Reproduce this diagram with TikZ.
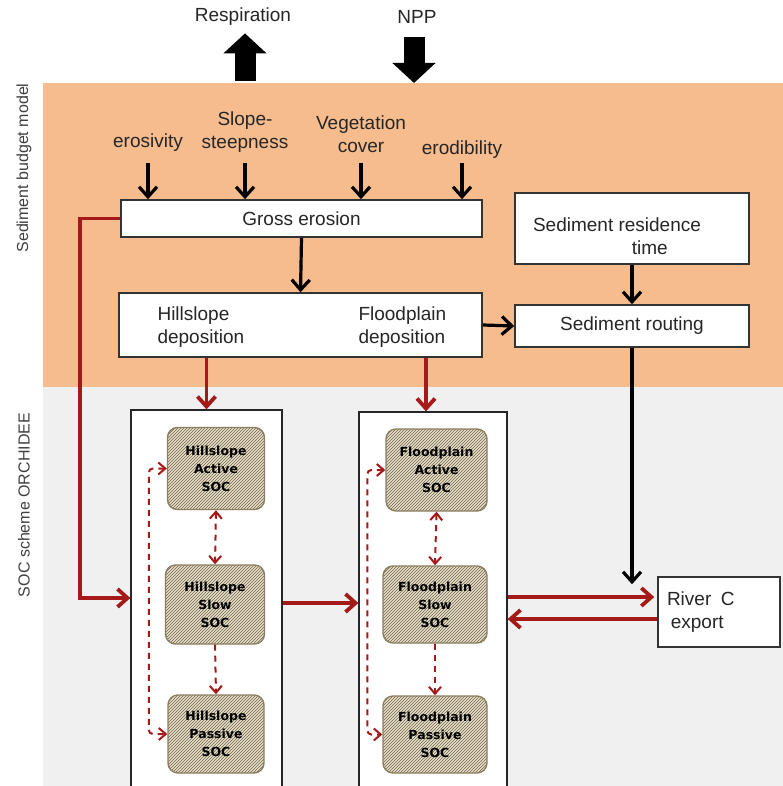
\documentclass[tikz,border=0pt]{standalone}
\usepackage{fontspec}
\setmainfont{Liberation Sans}
\newfontfamily\socfont{DejaVu Sans}
\usetikzlibrary{arrows.meta,patterns,calc}
\definecolor{budget}{RGB}{246,188,142}
\definecolor{schemegray}{RGB}{240,240,240}
\definecolor{fluxred}{RGB}{165,25,25}
\definecolor{socfill}{RGB}{232,224,200}
\definecolor{soclines}{RGB}{110,100,78}
\definecolor{socedge}{RGB}{140,125,95}

\begin{document}
\begin{tikzpicture}[x=1pt,y=-1pt,
        every node/.style={font=\fontsize{19}{23}\selectfont, text=black!85},
        procbox/.style={draw=black!80, line width=1.6pt, fill=white, inner sep=0pt},
        column/.style={draw=black!85, line width=1.3pt, fill=white, inner sep=0pt},
        socpool/.style={draw=socedge, line width=1.4pt, rounded corners=10pt,
            pattern=north east lines, pattern color=soclines, preaction={fill=socfill},
            inner sep=0pt, align=center, text=black,
            font=\socfont\bfseries\fontsize{12.5}{18}\selectfont},
        sidelabel/.style={rotate=90, text=black!75, font=\fontsize{16}{18}\selectfont},
        bigarrow/.style={line width=21pt, -{Triangle[length=20pt,width=42pt]}},
        blkarrow/.style={line width=3.2pt, -{Straight Barb[length=10pt,width=18pt]}},
        redarrow/.style={draw=fluxred, line width=3.8pt, -{Straight Barb[length=10pt,width=18pt]}},
        poolflow/.style={draw=fluxred, line width=2pt, dash pattern=on 6pt off 5pt,
            -{Straight Barb[length=7pt,width=12pt]}},
        poolswap/.style={draw=fluxred, line width=2pt, dash pattern=on 6pt off 5pt,
            {Straight Barb[length=7pt,width=12pt]}-{Straight Barb[length=7pt,width=12pt]}}]
        \useasboundingbox (0,0) rectangle (783,786);
        \fill[white] (0,0) rectangle (783,786);
        \fill[budget] (43,83) rectangle (783,387);
        \fill[schemegray] (43,387) rectangle (783,786);

        \node[sidelabel] (budgetlabel) at (24,168) {Sediment budget model};
        \node[sidelabel] (schemelabel) at (24,505) {SOC scheme ORCHIDEE};

        \node (resp) at (243,17) {Respiration};
        \node (npp) at (417,17) {NPP};
        \coordinate (respfoot) at (245,81);
        \coordinate (npptip) at (414,83);
        \draw[bigarrow, shorten >=4pt] (respfoot) -- (respfoot |- resp.south);
        \draw[bigarrow] ([yshift=-10pt]npp.south -| npptip) -- (npptip);

        \node (ero) at (148,143) {erosivity};
        \node[align=center] (slope) at (245,132) {Slope-\\steepness};
        \node[align=center] (veg) at (361,134) {Vegetation\\cover};
        \node (erod) at (462,150) {erodibility};

        \node[procbox, minimum width=361pt, minimum height=37pt] (gross) at (301.5,218.5) {Gross erosion};
        \node[procbox, minimum width=363pt, minimum height=64pt] (depo) at (300.5,325) {};
        \node[align=left, anchor=west] (hdep) at (154,327) {Hillslope\\deposition};
        \node[align=left, anchor=west] (fdep) at (355,327) {Floodplain\\deposition};
        \node[procbox, minimum width=234pt, minimum height=71pt] (resid) at (632,228.5) {};
        \node[align=left] (residtxt) at (617,236) {Sediment residence\\\hspace*{5.2em}time};
        \node[procbox, minimum width=234pt, minimum height=42pt] (routing) at (632,326) {Sediment routing};
        \node[procbox, minimum width=122pt, minimum height=70pt, text width=104pt, align=left] (river) at (719,612) {River\, C\\\hspace*{0.2em}export};

        \node[column, minimum width=151pt, minimum height=390pt] (hcol) at (206.5,605) {};
        \node[column, minimum width=148pt, minimum height=388pt] (fcol) at (433,606) {};

        \node[socpool, minimum width=97pt, minimum height=82pt] (hact) at (216,468.5) {Hillslope\\Active\\SOC};
        \node[socpool, minimum width=99pt, minimum height=79pt] (hslow) at (215,604.5) {Hillslope\\Slow\\SOC};
        \node[socpool, minimum width=96pt, minimum height=78pt] (hpas) at (216,734) {Hillslope\\Passive\\SOC};
        \node[socpool, minimum width=101pt, minimum height=82pt] (fact) at (436.5,470) {Floodplain\\Active\\SOC};
        \node[socpool, minimum width=104pt, minimum height=77pt] (fslow) at (435,604.5) {Floodplain\\Slow\\SOC};
        \node[socpool, minimum width=104pt, minimum height=77pt] (fpas) at (435,734.5) {Floodplain\\Passive\\SOC};

        \draw[blkarrow] (ero |- 0,163) -- (ero |- gross.north);
        \draw[blkarrow] (slope |- 0,163) -- (slope |- gross.north);
        \draw[blkarrow] (veg |- 0,163) -- (veg |- gross.north);
        \draw[blkarrow] (erod |- 0,163) -- (erod |- gross.north);
        \draw[blkarrow] (gross.south) -- (depo.north);
        \draw[blkarrow] (resid.south) -- (routing.north);
        \draw[blkarrow] (depo.east) -- (routing.west);
        \draw[blkarrow] (routing.south) -- ($(routing.south |- river.north)+(0,8)$);

        \draw[redarrow] (depo.south -| hcol.north) -- (hcol.north);
        \draw[redarrow] ([xshift=-7pt]fcol.north |- depo.south) -- ([xshift=-7pt]fcol.north);
        \draw[redarrow] (gross.west) -- ++(-40,0) |- ([yshift=7pt]hcol.west);
        \draw[redarrow] ([yshift=2pt]hcol.east) -- ([yshift=2pt]hcol.east -| fcol.west);
        \coordinate (riverin) at ([yshift=15pt]river.west);
        \draw[redarrow] (riverin -| fcol.east) -- ([xshift=-3pt]riverin);
        \draw[redarrow] ([yshift=-7pt]river.west) -- ([yshift=-7pt]river.west -| fcol.east);

        \draw[poolswap] (hact.south) -- (hslow.north);
        \draw[poolflow] (hslow.south) -- (hpas.north);
        \draw[poolswap, rounded corners=4pt] (hact.west) -- ++(-18,0) |- (hpas.west);
        \draw[poolswap] (fact.south) -- (fslow.north);
        \draw[poolflow] (fslow.south) -- (fpas.north);
        \draw[poolswap, rounded corners=4pt] (fact.west) -- ++(-18,0) |- (fpas.west);
\end{tikzpicture}
\end{document}
